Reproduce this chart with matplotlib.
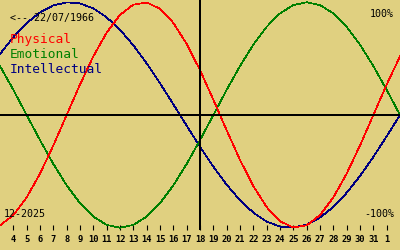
import matplotlib
matplotlib.use("Agg")
import matplotlib.pyplot as plt

# biorhythm for someone born 22/07/1966, December 2025, today = 18th
days = list(range(3, 34))          # Dec 3 .. Jan 2
today = 18

physical = [-0.979, -0.888, -0.731, -0.520, -0.270, 0.0, 0.270, 0.520, 0.731, 0.888,
            0.979, 0.998, 0.942, 0.817, 0.631, 0.398, 0.136, -0.136, -0.398, -0.631,
            -0.817, -0.942, -0.998, -0.979, -0.888, -0.731, -0.520, -0.270, 0.0, 0.270,
            0.520]
emotional = [0.434, 0.223, 0.0, -0.223, -0.434, -0.624, -0.782, -0.901, -0.975, -1.0,
             -0.975, -0.901, -0.782, -0.624, -0.434, -0.223, 0.0, 0.223, 0.434, 0.624,
             0.782, 0.901, 0.975, 1.0, 0.975, 0.901, 0.782, 0.624, 0.434, 0.223,
             0.0]
intellectual = [0.541, 0.690, 0.815, 0.910, 0.972, 0.999, 0.990, 0.945, 0.866, 0.756,
                0.618, 0.458, 0.282, 0.095, -0.095, -0.282, -0.458, -0.618, -0.756, -0.866,
                -0.945, -0.990, -0.999, -0.972, -0.910, -0.815, -0.690, -0.541, -0.372, -0.189,
                0.0]

tick_days = list(range(4, 33))
tick_labels = [str(d) for d in range(4, 32)] + ["1"]

bg = "#e0d080"
mono = "DejaVu Sans Mono"
H = 250  # figure height in px, text below is placed in pixels from the top

fig = plt.figure(figsize=(4, 2.5), dpi=100, facecolor=bg)
ax = fig.add_axes([0, 0.08, 1, 0.92])
ax.set_facecolor(bg)

lw = 0.5
ax.plot(days, intellectual, color="#000080", lw=lw, antialiased=False)
ax.plot(days, emotional, color="#008000", lw=lw, antialiased=False)
ax.plot(days, physical, color="#ff0000", lw=lw, antialiased=False)

ax.axhline(0, color="black", lw=1.2, antialiased=False)
ax.axvline(today, color="black", lw=1.2, antialiased=False)

ax.set_xlim(days[0], days[-1])
ax.set_ylim(-1.02, 1.02)
for s in ax.spines.values():
    s.set_visible(False)
ax.set_yticks([])
ax.set_xticks(tick_days)
ax.set_xticklabels(tick_labels, fontsize=6.3, family=mono, fontweight="bold")
ax.tick_params(axis="x", direction="in", length=3.6, width=0.8, pad=3.5, color="black")

def px_text(x, y, s, **kw):
    ax.text(x, H - y, s, transform=None, family=mono, **kw)

px_text(10, 20.5, "<-- 22/07/1966", fontsize=7.2)
px_text(10, 43, "Physical", fontsize=9.3, color="#ff0000")
px_text(10, 58, "Emotional", fontsize=9.3, color="#008000")
px_text(10, 73, "Intellectual", fontsize=9.3, color="#000080")

px_text(394, 17, "100%", fontsize=7.2, ha="right")
px_text(394, 217, "-100%", fontsize=7.2, ha="right")
px_text(4, 217, "12-2025", fontsize=7.2, ha="left")

fig.savefig("out.png", dpi=100, facecolor=bg)
